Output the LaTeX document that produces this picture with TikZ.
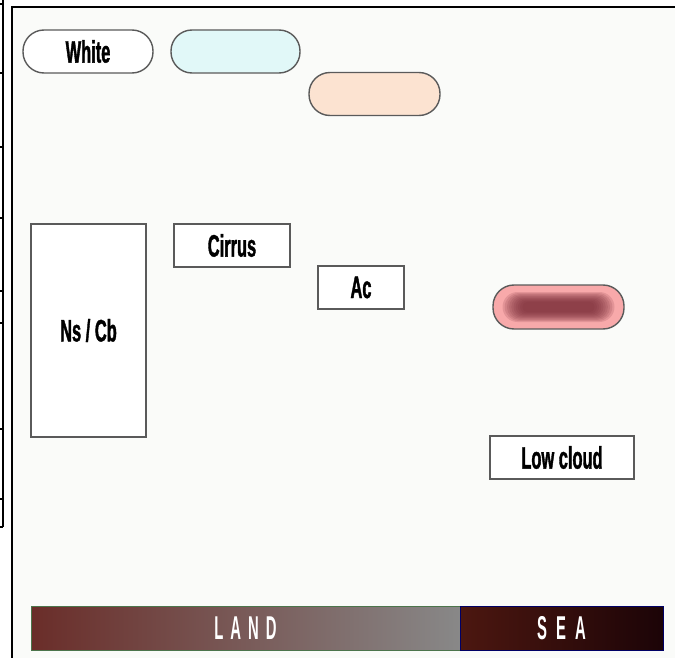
\documentclass[tikz,border=0pt]{standalone}
\usepackage{fontspec}
\usetikzlibrary{calc}
\setmainfont{Liberation Sans}
\newfontfamily\labelfont[FakeStretch=0.53,FakeBold=1.2]{Liberation Sans}
\newfontfamily\barfont[FakeStretch=0.45]{Liberation Sans}
\definecolor{panelbg}{HTML}{FAFBF9}
\definecolor{edgegray}{HTML}{5A5A5A}
\definecolor{cyanfill}{HTML}{E1F8F8}
\definecolor{peachfill}{HTML}{FCE3D1}
\definecolor{rosefill}{HTML}{F8A9AA}
\definecolor{rosecore}{HTML}{7A2C38}
\definecolor{landleft}{HTML}{6A2D29}
\definecolor{landright}{HTML}{888888}
\definecolor{sealeft}{HTML}{4C1710}
\definecolor{searight}{HTML}{1C0407}
\tikzset{
  pill/.style={draw=edgegray, line width=1.4pt, rounded corners=21pt,
    minimum height=43pt, inner sep=0pt, font=\labelfont\bfseries\fontsize{31}{31}\selectfont},
  labelbox/.style={draw=edgegray, line width=1.2pt, fill=white, inner sep=0pt,
    font=\labelfont\bfseries\fontsize{31}{31}\selectfont},
  barpart/.style={minimum height=44pt, inner sep=0pt, line width=1pt,
    text=white, font=\barfont\bfseries\fontsize{33}{33}\selectfont},
  tick/.style={line width=2pt, black}
}
\begin{document}
\begin{tikzpicture}[x=1pt,y=-1pt]
\useasboundingbox (0,0) rectangle (675,658);
\fill[white] (0,0) rectangle (675,658);
% panel and its frame
\fill[panelbg] (11.5,7.5) rectangle (675,658);
\draw[line width=2pt, black] (11.5,658) -- (11.5,7.5) -- (675,7.5);
% stacked edge strip at the far left
\draw[tick] (3,0) -- (3,527);
\foreach \yy in {4,73,147,218,291,323,429,499,527}
  \draw[tick] (0,\yy) -- (3,\yy);

% rounded labels
\node[pill, fill=white, minimum width=130pt] (white) at (88,51.5) {White};
\node[pill, fill=cyanfill, minimum width=129pt] (cyan) at (235.5,51.5) {};
\node[pill, fill=peachfill, minimum width=131pt] (peach) at (374.5,94) {};
\node[pill, fill=rosefill, minimum width=131pt, minimum height=44pt] (rose) at (558.5,307) {};
% soft dark core inside the rose pill
\begin{scope}
  \clip[rounded corners=21pt] (rose.south west) rectangle (rose.north east);
  \foreach \i in {0,...,9}{
    \pgfmathsetmacro{\hw}{56-2.2*\i}
    \pgfmathsetmacro{\hh}{15-1.1*\i}
    \fill[rosecore, opacity=0.16, rounded corners=\hh pt]
      ($(rose.center)+(-\hw,-\hh)$) rectangle ($(rose.center)+(\hw,\hh)$);
  }
\end{scope}

% boxed labels
\node[labelbox, minimum width=115pt, minimum height=213pt] (nscb) at (88.5,330.5) {Ns / Cb};
\node[labelbox, minimum width=116pt, minimum height=43pt] (cirrus) at (232,245.5) {Cirrus};
\node[labelbox, minimum width=86pt, minimum height=43pt] (ac) at (361,287.5) {Ac};
\node[labelbox, minimum width=144pt, minimum height=43pt] (low) at (562,457.5) {Low cloud};

% ground strip
\node[barpart, minimum width=429pt, draw=black!60!green!40!gray,
  left color=landleft, right color=landright] (land) at (245.5,628)
  {L\hspace{7pt}A\hspace{7pt}N\hspace{7pt}D};
\node[barpart, minimum width=203pt, draw=blue!40!black,
  left color=sealeft, right color=searight] (sea) at (561.5,628)
  {S\hspace{9pt}E\hspace{9pt}A};
\end{tikzpicture}
\end{document}
